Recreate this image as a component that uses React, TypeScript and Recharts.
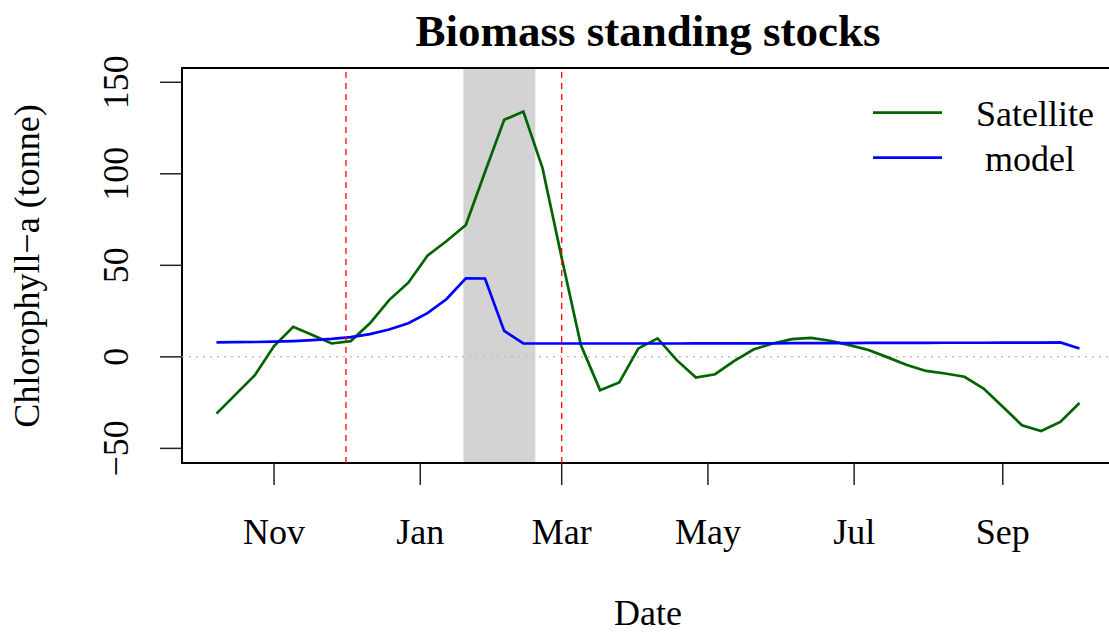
import React from 'react';
import {
  LineChart,
  Line,
  XAxis,
  YAxis,
  ReferenceArea,
  ReferenceLine,
} from 'recharts';

// days since 1 Nov (8-day composites)
const dayOffsets = [
  -24, -16, -8, 0, 8, 16, 24, 32, 40, 48, 56, 64, 72, 80, 88, 96, 104, 112, 120, 128,
  136, 144, 152, 160, 168, 176, 184, 192, 200, 208, 216, 224, 232, 240, 248, 256, 264,
  272, 280, 288, 296, 304, 312, 320, 328, 336,
];

const satellite = [
  -31.0, -20.5, -10.0, 5.9, 16.4, 11.9, 7.3, 8.6, 18.3, 31.0,
  40.5, 55.3, 63.3, 72.0, 101.0, 129.5, 134.0, 103.1, 54.0, 6.4,
  -18.2, -14.0, 4.6, 10.1, -1.8, -11.3, -9.5, -2.2, 4.0, 7.3,
  9.7, 10.4, 8.8, 6.4, 3.7, -0.3, -4.5, -7.7, -9.1, -10.9,
  -17.3, -27.3, -37.4, -40.5, -35.6, -25.2,
];

const model = [
  7.9, 8.0, 8.1, 8.3, 8.6, 9.1, 9.8, 10.8, 12.4, 14.9,
  18.4, 23.9, 31.6, 42.9, 42.8, 14.2, 7.3, 7.3, 7.3, 7.3,
  7.3, 7.3, 7.3, 7.3, 7.3, 7.4, 7.4, 7.4, 7.4, 7.4,
  7.5, 7.5, 7.5, 7.5, 7.6, 7.6, 7.6, 7.6, 7.7, 7.7,
  7.7, 7.8, 7.8, 7.8, 7.9, 4.6,
];

const monthTicks = [0, 61, 120, 181, 242, 304];
const monthLabels = ['Nov', 'Jan', 'Mar', 'May', 'Jul', 'Sep'];
const yTicks = [-50, 0, 50, 100, 150];

// event markers (days since 1 Nov)
const markerDays = [30, 120];
const bloomWindow = [79, 109];

const seriesNames = ['Satellite', ' model'];
const seriesKeys = ['satellite', 'model'];
const seriesColors = ['#006400', '#0000FF'];

const data = dayOffsets.map((d, i) => ({
  day: d,
  satellite: satellite[i],
  model: model[i],
}));

const FONT = '"Liberation Serif", "DejaVu Serif", serif';
const X_DOMAIN = [-38.4, 350.4];
const Y_DOMAIN = [-58, 157.8];

const fmtNum = (v: number) => (v < 0 ? '\u2212' + Math.abs(v) : String(v));

const YTick = (props: any) => {
  const { x, y, payload } = props;
  return (
    <text
      x={x}
      y={y}
      transform={`rotate(-90, ${x}, ${y})`}
      textAnchor="middle"
      fontSize={36}
      fontFamily={FONT}
      fill="#000"
    >
      {fmtNum(payload.value)}
    </text>
  );
};

const App: React.FC = () => {
  return (
    <div
      style={{
        position: 'absolute',
        left: 0,
        top: 0,
        width: 1109,
        height: 634,
        overflow: 'hidden',
        background: '#fff',
      }}
    >
      <LineChart
        width={1116}
        height={634}
        data={data}
        margin={{ top: 68, right: 2, bottom: 0, left: 0 }}
      >
        <XAxis
          dataKey="day"
          type="number"
          domain={X_DOMAIN}
          allowDataOverflow
          ticks={monthTicks}
          tickFormatter={(v: number) => monthLabels[monthTicks.indexOf(v)]}
          height={171}
          axisLine={false}
          tickSize={22}
          tickMargin={33}
          tickLine={{ stroke: '#222', strokeWidth: 1.5 }}
          tick={{ fill: '#000', fontSize: 36, fontFamily: FONT }}
          interval={0}
        />
        <YAxis
          type="number"
          domain={Y_DOMAIN}
          allowDataOverflow
          ticks={yTicks}
          width={182}
          axisLine={false}
          tickSize={22}
          tickMargin={32}
          tickLine={{ stroke: '#222', strokeWidth: 1.5 }}
          tick={<YTick />}
          interval={0}
        />
        <ReferenceArea
          x1={bloomWindow[0]}
          x2={bloomWindow[1]}
          fill="#D3D3D3"
          fillOpacity={1}
          stroke="none"
        />
        <ReferenceLine y={0} stroke="#BEBEBE" strokeWidth={1.5} strokeDasharray="2 5" />
        {seriesKeys.map((k, i) => (
          <Line
            key={k}
            type="linear"
            dataKey={k}
            stroke={seriesColors[i]}
            strokeWidth={2.7}
            dot={false}
            activeDot={false}
            isAnimationActive={false}
          />
        ))}
        {markerDays.map((d) => (
          <ReferenceLine
            key={d}
            x={d}
            stroke="#FF0000"
            strokeWidth={1.3}
            strokeDasharray="6 5"
          />
        ))}
        <ReferenceArea
          x1={X_DOMAIN[0]}
          x2={X_DOMAIN[1]}
          y1={Y_DOMAIN[0]}
          y2={Y_DOMAIN[1]}
          fill="none"
          stroke="#000"
          strokeWidth={2}
        />
      </LineChart>
      <svg
        width={1109}
        height={634}
        style={{ position: 'absolute', left: 0, top: 0, pointerEvents: 'none' }}
        fontFamily={FONT}
      >
        <text x={648} y={46} textAnchor="middle" fontSize={45} fontWeight="bold" fill="#000">
          Biomass standing stocks
        </text>
        <text x={648} y={625} textAnchor="middle" fontSize={36} fill="#000">
          Date
        </text>
        <text
          x={38.5}
          y={266}
          transform="rotate(-90, 38.5, 266)"
          textAnchor="middle"
          fontSize={36}
          fill="#000"
        >
          Chlorophyll{'\u2212'}a (tonne)
        </text>
        {seriesNames.map((name, i) => (
          <g key={name}>
            <line
              x1={873}
              x2={942}
              y1={112.7 + i * 45}
              y2={112.7 + i * 45}
              stroke={seriesColors[i]}
              strokeWidth={2.7}
            />
            <text
              x={976}
              y={125.5 + i * 45}
              fontSize={36}
              fill="#000"
              style={{ whiteSpace: 'pre' }}
            >
              {name}
            </text>
          </g>
        ))}
      </svg>
    </div>
  );
};

export default App;
